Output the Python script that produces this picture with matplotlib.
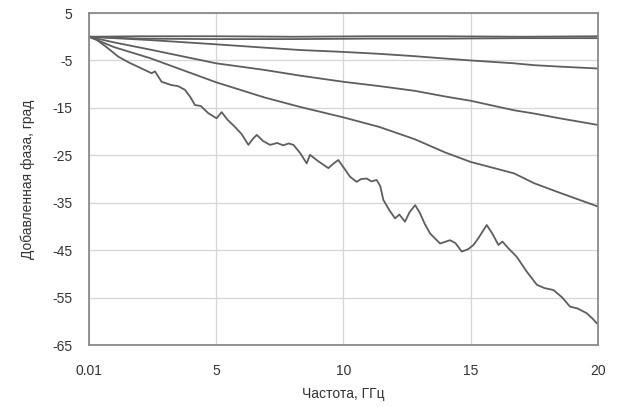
import matplotlib
matplotlib.use("Agg")
import matplotlib.pyplot as plt

plt.rcParams["font.family"] = ["Liberation Sans", "DejaVu Sans"]
plt.rcParams["axes.unicode_minus"] = False

# flat curves near zero
f_flat = [0.01, 2, 5, 8, 11, 14, 17, 20]
ph_a = [0, 0.1, 0.1, 0.0, 0.1, 0.1, 0.0, 0.1]
ph_b = [0, -0.4, -0.5, -0.5, -0.4, -0.4, -0.3, -0.3]

# smooth curves
f_smooth = [0.01, 1, 2.4, 5, 6.9, 8.3, 10, 11.4, 12.8, 14, 15, 16.7, 17.5, 18.5, 20]
ph_c = [0, -0.3, -0.7, -1.6, -2.3, -2.8, -3.2, -3.6, -4.1, -4.6, -5.0, -5.6, -6.0, -6.3, -6.7]
ph_d = [0, -1.2, -2.7, -5.6, -7.0, -8.2, -9.5, -10.4, -11.4, -12.6, -13.5, -15.5, -16.2, -17.2, -18.6]
ph_e = [0, -2.2, -4.5, -9.6, -12.8, -14.8, -17.0, -19.0, -21.6, -24.4, -26.4, -28.8, -30.9, -32.9, -35.8]

# noisy curve
f_noisy = [0.01, 0.3, 0.7, 1.16, 1.6, 2.0, 2.47, 2.6, 2.86, 3.25, 3.5, 3.78,
           4.0, 4.17, 4.4, 4.69, 5.02, 5.22, 5.45, 5.74, 6.0, 6.27, 6.45, 6.6,
           6.85, 7.12, 7.4, 7.64, 7.85, 8.04, 8.3, 8.56, 8.69, 9.0, 9.41, 9.6,
           9.8, 10.0, 10.26, 10.52, 10.7, 10.92, 11.1, 11.31, 11.45, 11.57, 11.8,
           12.03, 12.2, 12.42, 12.6, 12.82, 13.01, 13.2, 13.41, 13.8, 14.19, 14.4,
           14.65, 14.9, 15.11, 15.3, 15.63, 15.85, 16.09, 16.25, 16.48, 16.81,
           17.2, 17.6, 17.9, 18.25, 18.6, 18.9, 19.2, 19.56, 19.8, 19.95]
ph_noisy = [0, -0.6, -2.2, -4.2, -5.5, -6.5, -7.7, -7.3, -9.5, -10.2, -10.4, -11.2,
            -12.8, -14.4, -14.6, -16.1, -17.2, -15.9, -17.5, -19.0, -20.5, -22.8, -21.5, -20.7,
            -22.0, -22.8, -22.4, -22.9, -22.5, -22.8, -24.5, -26.7, -24.9, -26.2, -27.7, -26.8,
            -26.0, -27.5, -29.5, -30.6, -30.0, -29.9, -30.5, -30.2, -31.5, -34.4, -36.5,
            -38.3, -37.5, -39.0, -37.0, -35.5, -37.2, -39.5, -41.5, -43.6, -42.9, -43.5,
            -45.3, -44.8, -43.9, -42.5, -39.7, -41.5, -43.9, -43.2, -44.6, -46.4,
            -49.5, -52.3, -53.0, -53.4, -55.0, -56.9, -57.3, -58.3, -59.5, -60.4]

x_ticks = [0.01, 5, 10, 15, 20]
x_labels = ["0.01", "5", "10", "15", "20"]
y_ticks = [5, -5, -15, -25, -35, -45, -55, -65]

fig = plt.figure(figsize=(6.19, 4.07), dpi=100)
ax = fig.add_axes([0.1438, 0.1523, 0.8222, 0.8157])

lc = "#5e5e5e"
lw = 1.3
ax.plot(f_flat, ph_a, color=lc, lw=lw)
ax.plot(f_flat, ph_b, color=lc, lw=lw)
ax.plot(f_smooth, ph_c, color=lc, lw=lw)
ax.plot(f_smooth, ph_d, color=lc, lw=lw)
ax.plot(f_smooth, ph_e, color=lc, lw=lw)
ax.plot(f_noisy, ph_noisy, color=lc, lw=lw)

ax.set_xlim(0.01, 20)
ax.set_ylim(-65, 5)
ax.set_xticks(x_ticks)
ax.set_xticklabels(x_labels)
ax.set_yticks(y_ticks)
ax.grid(True, color="#d6d6d6", lw=0.9)
ax.set_axisbelow(True)
for s in ax.spines.values():
    s.set_color("#8a8a8a")
    s.set_linewidth(1.3)
ax.tick_params(length=0, labelsize=10, colors="#333333")
ax.tick_params(axis="x", pad=14)
ax.tick_params(axis="y", pad=12)

ax.set_xlabel("Частота, ГГц", fontsize=10, color="#333333", labelpad=6)
ax.set_ylabel("Добавленная фаза, град", fontsize=10, color="#333333", labelpad=12)

fig.savefig("out.png", dpi=100)
